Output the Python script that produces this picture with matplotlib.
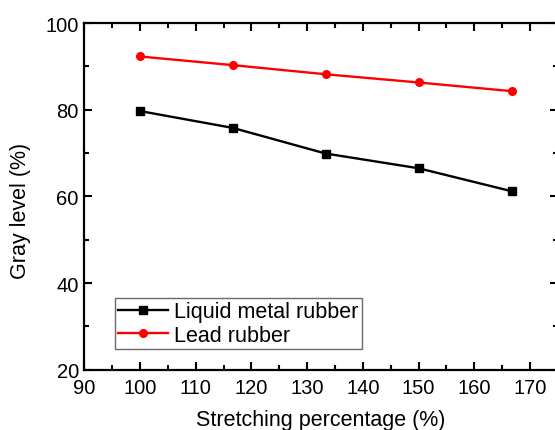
import matplotlib
matplotlib.use("Agg")
import matplotlib.pyplot as plt
from matplotlib.ticker import MultipleLocator

plt.rcParams['font.family'] = ['Liberation Sans', 'DejaVu Sans']

stretch = [100, 116.7, 133.3, 150, 166.7]
liquid_metal = [79.7, 75.8, 69.9, 66.5, 61.2]
lead = [92.3, 90.3, 88.2, 86.3, 84.3]

fig = plt.figure(figsize=(5.55, 4.31), dpi=100)
ax = fig.add_axes([0.152, 0.140, 0.853, 0.804])

ax.plot(stretch, liquid_metal, color='black', lw=1.7, marker='s', ms=5.5,
        label='Liquid metal rubber')
ax.plot(stretch, lead, color='red', lw=1.7, marker='o', ms=5.5,
        label='Lead rubber')

ax.set_xlim(90, 175)
ax.set_ylim(20, 100)
ax.xaxis.set_major_locator(MultipleLocator(10))
ax.xaxis.set_minor_locator(MultipleLocator(5))
ax.yaxis.set_major_locator(MultipleLocator(20))
ax.yaxis.set_minor_locator(MultipleLocator(10))
ax.tick_params(which='both', direction='in', top=True, right=True, width=1.5,
               labelsize=14.5)
ax.tick_params(axis='x', pad=6)
ax.tick_params(axis='y', pad=4)
ax.tick_params(which='major', length=6)
ax.tick_params(which='minor', length=3.5)
for s in ax.spines.values():
    s.set_linewidth(1.6)

ax.set_xlabel('Stretching percentage (%)', fontsize=15.5, labelpad=9)
ax.set_ylabel('Gray level (%)', fontsize=15.5)
ax.yaxis.set_label_coords(-0.113, 0.46)

leg = ax.legend(loc='lower left', bbox_to_anchor=(0.065, 0.06), borderaxespad=0,
                fontsize=15.5, handlelength=2.3, frameon=True, fancybox=False,
                edgecolor='#444444', borderpad=0.15, labelspacing=0.1,
                handletextpad=0.3)
leg.get_frame().set_linewidth(1.0)

fig.savefig('out.png', dpi=100)
